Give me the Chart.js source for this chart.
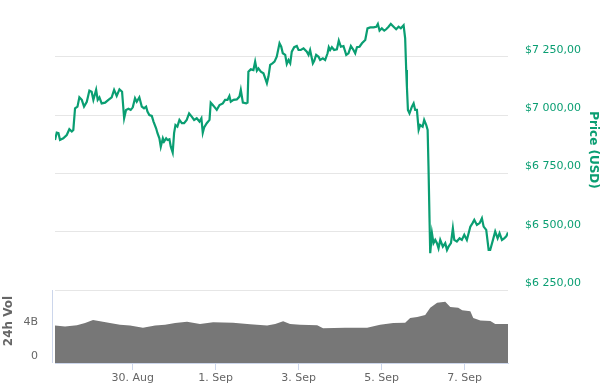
<!DOCTYPE html>
<html>
<head>
<meta charset="utf-8">
<script src="https://cdn.jsdelivr.net/npm/chart.js@4.4.1/dist/chart.umd.min.js"></script>
<style>
  body { margin: 0; background: #fff; }
  canvas { display: block; }
</style>
</head>
<body>
<canvas id="btcChart" width="601" height="392"></canvas>
<script>
// time is in hours since 28 Aug 00:00
const priceHours = [3.0, 4.0, 5.0, 5.9, 7.8, 9.8, 11.3, 12.7, 13.6, 14.6, 16.0, 17.1, 18.5, 19.8, 21.4, 22.9, 24.2, 25.2, 26.8, 27.7,
  28.7, 30.0, 32.0, 33.9, 35.8, 37.2, 38.7, 40.3, 41.8, 43.0, 44.1, 45.5, 46.8, 48.0, 49.3, 50.3, 51.8, 53.2, 54.5, 55.7,
  56.5, 57.6, 59.0, 60.0, 61.5, 62.3, 63.4, 64.2, 65.4, 66.1, 67.3, 68.1, 69.2, 70.0, 71.1, 71.9, 72.7, 73.8, 75.0, 76.4,
  77.7, 79.2, 80.6, 82.1, 83.5, 85.0, 86.6, 87.7, 88.5, 89.3, 90.8, 92.4, 93.1, 94.3, 95.1, 96.6, 98.2, 100.1, 101.4, 102.8,
  103.9, 104.7, 106.3, 108.2, 109.7, 110.5, 111.7, 113.6, 114.4, 114.9, 116.3, 117.8, 118.8, 119.8, 120.7, 122.1, 123.6, 124.6, 125.6, 126.5,
  127.5, 128.8, 130.0, 131.3, 132.9, 133.9, 134.8, 136.2, 137.1, 138.1, 139.1, 140.0, 141.4, 142.9, 143.9, 145.2, 146.8, 148.7, 149.7, 150.6,
  152.2, 153.0, 154.1, 155.5, 156.4, 158.0, 159.3, 160.7, 161.4, 162.2, 163.2, 164.5, 166.1, 167.2, 168.4, 169.9, 171.5, 172.8, 174.2, 175.7,
  176.7, 177.7, 179.2, 180.6, 182.5, 183.8, 185.4, 187.3, 188.9, 189.8, 190.8, 192.1, 193.5, 194.6, 196.0, 197.3, 198.9, 200.4, 201.8, 203.1,
  204.7, 205.6, 206.2, 206.6, 207.2, 208.1, 209.5, 210.5, 211.4, 212.4, 213.4, 214.3, 215.7, 216.6, 217.8, 218.6, 219.1, 219.7, 220.1, 221.1,
  222.0, 223.0, 224.0, 224.9, 225.9, 227.4, 228.8, 229.8, 230.7, 232.1, 233.2, 234.0, 235.5, 237.1, 238.4, 239.8, 241.3, 243.3, 244.6, 245.6,
  247.1, 248.7, 250.0, 251.0, 252.5, 253.9, 254.8, 256.4, 257.7, 259.1, 260.2, 261.6, 262.9, 264.1, 265.1];
const priceUsd = [6894, 6925, 6923, 6894, 6901, 6915, 6940, 6930, 6937, 7030, 7037, 7077, 7066, 7037, 7058, 7106, 7101, 7066, 7109, 7066,
  7077, 7051, 7054, 7066, 7077, 7109, 7083, 7111, 7101, 6987, 7023, 7028, 7023, 7034, 7073, 7058, 7077, 7037, 7030, 7037,
  7016, 7001, 6997, 6973, 6944, 6923, 6901, 6865, 6901, 6887, 6901, 6894, 6897, 6865, 6840, 6923, 6958, 6951, 6980, 6966,
  6966, 6980, 7008, 6994, 6980, 6987, 6973, 6987, 6925, 6948, 6966, 6980, 7054, 7044, 7037, 7023, 7044, 7051, 7066, 7066,
  7083, 7058, 7066, 7068, 7080, 7109, 7054, 7051, 7054, 7187, 7197, 7194, 7230, 7191, 7201, 7187, 7180, 7159, 7137, 7166,
  7216, 7223, 7230, 7251, 7309, 7294, 7266, 7259, 7220, 7237, 7223, 7273, 7292, 7297, 7280, 7280, 7287, 7273, 7259, 7280,
  7223, 7234, 7259, 7251, 7237, 7244, 7237, 7266, 7292, 7280, 7292, 7280, 7283, 7320, 7294, 7297, 7259, 7266, 7297, 7280,
  7266, 7292, 7294, 7309, 7323, 7373, 7377, 7377, 7380, 7392, 7363, 7373, 7363, 7369, 7380, 7392, 7380, 7369, 7380, 7373,
  7386, 7330, 7194, 7123, 7023, 7008, 7037, 7051, 7023, 7023, 6937, 6958, 6951, 6980, 6958, 6937, 6780, 6551, 6408, 6494,
  6451, 6465, 6451, 6429, 6465, 6436, 6451, 6422, 6436, 6451, 6515, 6465, 6458, 6472, 6465, 6487, 6465, 6522, 6537, 6551,
  6529, 6537, 6558, 6522, 6508, 6422, 6422, 6465, 6501, 6472, 6494, 6465, 6472, 6480, 6497];

const volHours = [3.0, 8.8, 15.7, 20.4, 25.0, 29.1, 34.8, 40.6, 46.4, 53.9, 60.9, 66.7, 72.5, 79.4, 86.9, 94.5, 106.0, 115.9, 125.7, 130.4,
  135.0, 139.0, 144.8, 154.7, 158.1, 170.9, 183.6, 191.1, 198.7, 205.6, 208.5, 212.6, 217.2, 220.1, 224.1, 228.8, 231.7, 236.3, 238.6, 243.3,
  245.0, 249.1, 254.9, 257.7, 265.2];
const volBillions = [4.4, 4.3, 4.45, 4.7, 5.06, 4.9, 4.7, 4.5, 4.4, 4.15, 4.4, 4.5, 4.7, 4.86, 4.6, 4.8, 4.75, 4.55, 4.4, 4.6,
  4.9, 4.6, 4.5, 4.45, 4.1, 4.15, 4.15, 4.5, 4.7, 4.75, 5.3, 5.4, 5.65, 6.5, 7.1, 7.2, 6.6, 6.5, 6.2, 6.1,
  5.3, 5.0, 4.95, 4.6, 4.6];

const dayTicks = [48, 96, 144, 192, 240];
const dayLabels = ['30. Aug', '1. Sep', '3. Sep', '5. Sep', '7. Sep'];
const priceTicks = [6250, 6500, 6750, 7000, 7250];
const volTicks = [0, 4];
const volTickLabels = ['0', '4B'];

const green = '#0a9e72';
const font = { family: 'DejaVu Sans', size: 11 };

function usd(v) {
    const s = String(Math.round(v)).replace(/\B(?=(\d{3})+(?!\d))/g, ' ');
    return '$' + s + ',00';
}

// axis titles and the short left line of the volume pane
const extras = {
    id: 'extras',
    afterDraw(chart) {
        const ctx = chart.ctx;
        const vol = chart.scales.vol;
        ctx.save();
        ctx.strokeStyle = '#ccd6eb';
        ctx.lineWidth = 1;
        ctx.beginPath();
        ctx.moveTo(52.5, chart.scales.y.getPixelForValue(6250));
        ctx.lineTo(52.5, vol.getPixelForValue(0));
        ctx.stroke();

        ctx.font = 'bold 12px "DejaVu Sans"';
        ctx.textAlign = 'center';
        ctx.textBaseline = 'middle';
        ctx.fillStyle = green;
        ctx.translate(593, 150);
        ctx.rotate(Math.PI / 2);
        ctx.fillText('Price (USD)', 0, 0);
        ctx.restore();

        ctx.save();
        ctx.font = 'bold 12px "DejaVu Sans"';
        ctx.textAlign = 'center';
        ctx.textBaseline = 'middle';
        ctx.fillStyle = '#666666';
        ctx.translate(9, 321);
        ctx.rotate(-Math.PI / 2);
        ctx.fillText('24h Vol', 0, 0);
        ctx.restore();
    }
};

new Chart(document.getElementById('btcChart'), {
    type: 'line',
    data: {
        datasets: [{
            label: 'Price',
            data: priceHours.map((h, i) => ({ x: h, y: priceUsd[i] })),
            yAxisID: 'y',
            borderColor: green,
            borderWidth: 2.2,
            pointRadius: 0,
            fill: false
        }, {
            label: '24h Vol',
            data: volHours.map((h, i) => ({ x: h, y: volBillions[i] })),
            yAxisID: 'vol',
            borderWidth: 0,
            borderColor: 'rgba(0,0,0,0)',
            backgroundColor: '#777777',
            pointRadius: 0,
            fill: 'origin'
        }]
    },
    options: {
        responsive: false,
        animation: false,
        layout: { padding: { top: 10, left: 0, right: 0, bottom: 0 } },
        plugins: { legend: { display: false }, tooltip: { enabled: false } },
        scales: {
            x: {
                type: 'linear',
                min: 3.0,
                max: 265.1,
                afterBuildTicks: s => { s.ticks = dayTicks.map(v => ({ value: v })); },
                afterFit: s => { s.height = 29; },
                grid: { drawOnChartArea: false, drawTicks: true, tickLength: 7, color: '#ccd6eb' },
                border: { display: true, color: '#ccd6eb' },
                ticks: {
                    color: '#666666',
                    font: font,
                    padding: 2,
                    maxRotation: 0,
                    callback: v => dayLabels[dayTicks.indexOf(v)]
                }
            },
            y: {
                position: 'right',
                min: 5936.7,
                max: 7451.7,
                afterBuildTicks: s => { s.ticks = priceTicks.map(v => ({ value: v })); },
                afterFit: s => { s.width = 93; },
                grid: { color: '#e6e6e6', drawTicks: true, tickLength: 17, tickColor: 'rgba(0,0,0,0)' },
                border: { display: false },
                ticks: { color: green, font: font, padding: 0, labelOffset: -7, callback: v => usd(v) }
            },
            vol: {
                position: 'left',
                min: 0,
                max: 41.53,
                afterBuildTicks: s => { s.ticks = volTicks.map(v => ({ value: v })); },
                afterFit: s => { s.width = 55; },
                grid: { drawOnChartArea: false, drawTicks: true, tickLength: 17, tickColor: 'rgba(0,0,0,0)' },
                border: { display: false },
                ticks: {
                    color: '#666666',
                    font: font,
                    padding: 0,
                    labelOffset: -7,
                    callback: v => volTickLabels[volTicks.indexOf(v)]
                }
            }
        }
    },
    plugins: [extras]
});
</script>
</body>
</html>
